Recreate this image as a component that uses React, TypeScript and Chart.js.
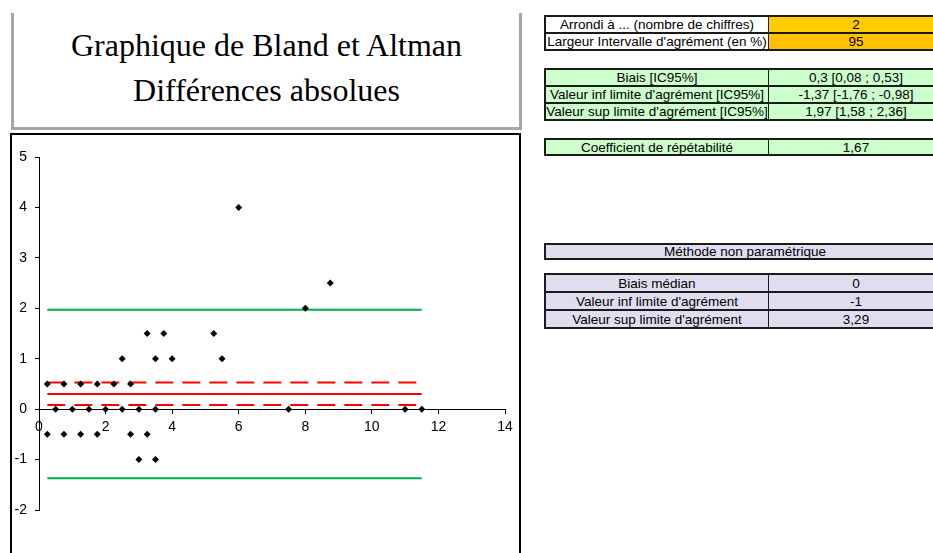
import React, { useEffect, useRef } from "react";
import { Chart, registerables } from "chart.js";

Chart.register(...registerables);

// ---- data ----
const meanValues = [
  0.25, 0.75, 1.25, 1.75, 2.25, 2.75,
  0.5, 1, 1.5, 2, 2.5, 3, 3.5, 7.5, 11, 11.5,
  0.25, 0.75, 1.25, 1.75, 2.75, 3.25,
  3, 3.5,
  2.5, 3.5, 4, 5.5,
  3.25, 3.75, 5.25,
  8, 8.75, 6,
];
const diffValues = [
  0.5, 0.5, 0.5, 0.5, 0.5, 0.5,
  0, 0, 0, 0, 0, 0, 0, 0, 0, 0,
  -0.5, -0.5, -0.5, -0.5, -0.5, -0.5,
  -1, -1,
  1, 1, 1, 1,
  1.5, 1.5, 1.5,
  2, 2.5, 4,
];
const bias = 0.3;
const biasCiLow = 0.08;
const biasCiHigh = 0.53;
const loaLow = -1.37;
const loaHigh = 1.97;

const xTicks = [0, 2, 4, 6, 8, 10, 12, 14];
const yTicks = [-2, -1, 0, 1, 2, 3, 4, 5];

const titleLines = ["Graphique de Bland et Altman", "Différences absolues"];

const settingsLabels = ["Arrondi à ... (nombre de chiffres)", "Largeur Intervalle d'agrément (en %)"];
const settingsValues = ["2", "95"];
const paramLabels = ["Biais [IC95%]", "Valeur inf limite d'agrément [IC95%]", "Valeur sup limite d'agrément [IC95%]"];
const paramValues = ["0,3 [0,08 ; 0,53]", "-1,37 [-1,76 ; -0,98]", "1,97 [1,58 ; 2,36]"];
const repeatLabels = ["Coefficient de répétabilité"];
const repeatValues = ["1,67"];
const nonParamTitle = "Méthode non paramétrique";
const nonParamLabels = ["Biais médian", "Valeur inf limite d'agrément", "Valeur sup limite d'agrément"];
const nonParamValues = ["0", "-1", "3,29"];

const FONT = "'Liberation Sans', Arial, sans-serif";
const TFS = 13.5;

function Table(props: {
  left: number; top: number; rowH: number; col1: number; col2: number;
  labels: string[]; values: string[]; bg1: string[]; bg2: string[];
}) {
  const { left, top, rowH, col1, col2, labels, values, bg1, bg2 } = props;
  const cells: any[] = [];
  labels.forEach((l, i) => {
    const y = top + i * rowH;
    cells.push(
      <div key={"a" + i} style={{
        position: "absolute", left, top: y, width: col1, height: rowH, boxSizing: "border-box",
        border: "1px solid #1a1a1a", background: bg1[i], display: "flex", alignItems: "center",
        justifyContent: "center", fontFamily: FONT, fontSize: TFS, color: "#000", whiteSpace: "nowrap",
      }}>{l}</div>
    );
    cells.push(
      <div key={"b" + i} style={{
        position: "absolute", left: left + col1 - 1, top: y, width: col2, height: rowH, boxSizing: "border-box",
        border: "1px solid #1a1a1a", background: bg2[i], display: "flex", alignItems: "center",
        justifyContent: "center", fontFamily: FONT, fontSize: TFS, color: "#000", whiteSpace: "nowrap",
      }}>{values[i]}</div>
    );
  });
  const n = labels.length;
  cells.push(
    <div key="outer" style={{
      position: "absolute", left: left - 1, top: top - 1, width: col1 + col2 + 1, height: n * rowH + 2,
      boxSizing: "border-box", border: "2px solid #1a1a1a", pointerEvents: "none",
    }} />
  );
  return <>{cells}</>;
}

export default function App() {
  const canvasRef = useRef<HTMLCanvasElement>(null);

  useEffect(() => {
    const ctx = canvasRef.current!;
    const xMin = Math.min(...meanValues);
    const xMax = Math.max(...meanValues);
    const hLine = (v: number) => [{ x: xMin, y: v }, { x: xMax, y: v }];
    const chart = new Chart(ctx, {
      type: "scatter",
      data: {
        datasets: [
          {
            label: "points",
            data: meanValues.map((x, i) => ({ x, y: diffValues[i] })),
            pointStyle: "rectRot",
            pointRadius: 3.5,
            backgroundColor: "#000",
            borderColor: "#000",
            borderWidth: 0,
            showLine: false,
          },
          { label: "bias", data: hLine(bias), showLine: true, borderColor: "#FF0000", borderWidth: 2, pointRadius: 0 },
          { label: "ciLow", data: hLine(biasCiLow), showLine: true, borderColor: "#FF0000", borderWidth: 2, borderDash: [18, 9], pointRadius: 0 },
          { label: "ciHigh", data: hLine(biasCiHigh), showLine: true, borderColor: "#FF0000", borderWidth: 2, borderDash: [18, 9], pointRadius: 0 },
          { label: "loaLow", data: hLine(loaLow), showLine: true, borderColor: "#00B050", borderWidth: 2, pointRadius: 0 },
          { label: "loaHigh", data: hLine(loaHigh), showLine: true, borderColor: "#00B050", borderWidth: 2, pointRadius: 0 },
        ] as any,
      },
      options: {
        animation: false,
        responsive: false,
        devicePixelRatio: 1,
        layout: { padding: { left: 0, right: 14, top: 22, bottom: 43 } },
        plugins: { legend: { display: false }, tooltip: { enabled: false } },
        scales: {
          x: {
            type: "linear",
            position: { y: 0 } as any,
            min: xTicks[0],
            max: xTicks[xTicks.length - 1],
            afterBuildTicks: (s: any) => { s.ticks = xTicks.map((v) => ({ value: v })); },
            grid: { drawOnChartArea: false, drawTicks: true, tickLength: 4, color: "#000" },
            border: { display: true, color: "#000", width: 1 },
            ticks: { font: { family: FONT, size: 14 }, color: "#000", padding: 6, maxRotation: 0 },
          },
          y: {
            type: "linear",
            position: "left",
            min: yTicks[0],
            max: yTicks[yTicks.length - 1],
            afterBuildTicks: (s: any) => { s.ticks = yTicks.map((v) => ({ value: v })); },
            afterFit: (s: any) => { s.width = 27; },
            grid: { drawOnChartArea: false, drawTicks: true, tickLength: 4, color: "#000" },
            border: { display: true, color: "#000", width: 1 },
            ticks: { font: { family: FONT, size: 14 }, color: "#000", padding: 8 },
          },
        },
      } as any,
    });
    return () => chart.destroy();
  }, []);

  const green = "#CCFFCC";
  const lav = "#E1DDF0";

  return (
    <div style={{ position: "fixed", left: 0, top: 0, width: 933, height: 553, overflow: "hidden", background: "#fff" }}>
      {/* title box */}
      <div style={{
        position: "absolute", left: 11, top: 13, width: 511, height: 117, boxSizing: "border-box",
        borderLeft: "3px solid #A6A6A6", borderRight: "3px solid #A6A6A6", borderBottom: "3px solid #A6A6A6",
        background: "#fff",
      }} />
      {titleLines.map((t, i) => (
        <div key={t} style={{
          position: "absolute", left: 11, width: 511, top: 29 + i * 45, textAlign: "center",
          fontFamily: "'Liberation Serif', 'Times New Roman', serif", fontSize: 32, lineHeight: "32px", color: "#000",
          whiteSpace: "nowrap",
        }}>{t}</div>
      ))}
      {/* chart frame */}
      <div style={{
        position: "absolute", left: 10, top: 133, width: 511, height: 440, boxSizing: "border-box",
        border: "2px solid #000", background: "#fff",
      }} />
      <canvas ref={canvasRef} width={507} height={418} style={{ position: "absolute", left: 12, top: 135, width: 507, height: 418 }} />
      {/* tables */}
      <Table left={545} top={16} rowH={17} col1={224} col2={176}
        labels={settingsLabels} values={settingsValues} bg1={["#fff", "#fff"]} bg2={["#FFCC00", "#FFC000"]} />
      <Table left={545} top={69} rowH={17} col1={224} col2={176}
        labels={paramLabels} values={paramValues} bg1={[green, green, green]} bg2={[green, green, green]} />
      <Table left={545} top={139} rowH={16} col1={224} col2={176}
        labels={repeatLabels} values={repeatValues} bg1={[green]} bg2={[green]} />
      <div style={{
        position: "absolute", left: 544, top: 243, width: 402, height: 17, boxSizing: "border-box",
        border: "2px solid #1a1a1a", background: lav, display: "flex", alignItems: "center", justifyContent: "center",
        fontFamily: FONT, fontSize: TFS, color: "#000", whiteSpace: "nowrap",
      }}>
        {nonParamTitle}
      </div>
      <Table left={545} top={274} rowH={18} col1={224} col2={176}
        labels={nonParamLabels} values={nonParamValues} bg1={[lav, lav, lav]} bg2={[lav, lav, lav]} />
    </div>
  );
}
